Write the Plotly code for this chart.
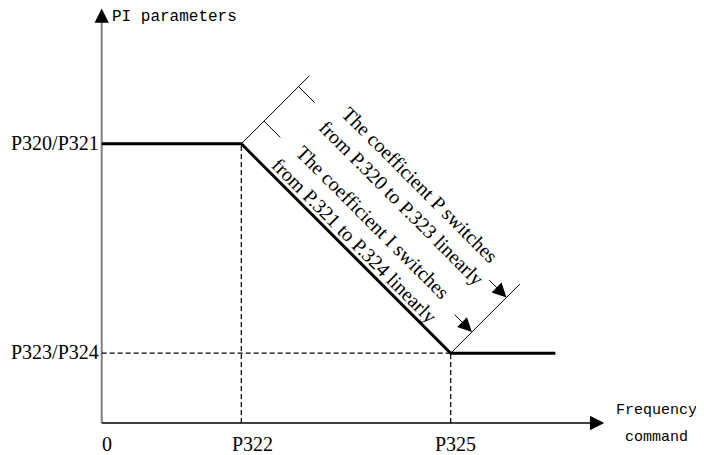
import math
import plotly.graph_objects as go

# ---------------- data (conceptual units) ----------------
x_ticks = [0.0, 1.0, 2.5]
x_tick_labels = ["0", "P322", "P325"]
y_levels = [2.0, 0.5]
y_level_labels = ["P320/P321", "P323/P324"]
curve_x = [0.0, 1.0, 2.5, 3.25]
curve_y = [2.0, 2.0, 0.5, 0.5]
x_axis_end = 3.6
y_axis_end = 2.97
x_axis_title = ["Frequency", "command"]
y_axis_title = "PI parameters"
note_P = ["The coefficient P switches", "from P.320 to P.323 linearly"]
note_I = ["The coefficient I switches", "from P.321 to P.324 linearly"]

# ---------------- geometry / style ----------------
PAGE_OFFSET = 8               # default body margin of the html page
W, H = 704 - PAGE_OFFSET, 455 - PAGE_OFFSET
PX = 139.6                    # pixels per unit (both axes)
OX, OY = 101.7 - PAGE_OFFSET, 423.0 - PAGE_OFFSET  # origin inside the figure
SERIF = "Liberation Serif"
MONO = "Liberation Mono"

s = 1 / math.sqrt(2)
u = (s, s)     # perpendicular to the falling segment (up-right)
d = (s, -s)    # along the falling segment (down-right)

def pt(p, v, t):
    return (p[0] + v[0] * t, p[1] + v[1] * t)

fig = go.Figure()

def line(xs, ys, color="black", width=1.0, dash="solid"):
    fig.add_trace(go.Scatter(x=xs, y=ys, mode="lines", hoverinfo="skip",
                             line=dict(color=color, width=width, dash=dash)))

# axes
line([0, 0], [0, y_axis_end - 0.07], color="#808080", width=2)
line([0, x_axis_end - 0.06], [0, 0], color="black", width=1.5)

# dashed guides
dash = "5px,3px"
x322, x325 = x_ticks[1], x_ticks[2]
y_hi, y_lo = y_levels
line([x322, x322], [0, y_hi], width=1.2, dash=dash)
line([x325, x325], [0, y_lo], width=1.2, dash=dash)
line([0, x325], [y_lo, y_lo], width=1.2, dash=dash)

# main curve
line(curve_x, curve_y, width=3)

# dimension lines
c1 = (x322, y_hi)
c2 = (x325, y_lo)
e1 = pt(c1, u, 0.69)
e2 = pt(c2, u, 0.70)
line([c1[0], e1[0]], [c1[1], e1[1]], width=1)
line([c2[0], e2[0]], [c2[1], e2[1]], width=1)
ann = []
for t in (0.23, 0.58):
    a = pt(c1, u, t)
    b = pt(a, d, 0.165)
    line([a[0], b[0]], [a[1], b[1]], width=1)
for t in (0.215, 0.565):
    tip = pt(c2, u, t)
    tail = pt(tip, d, -0.19)
    ann.append(dict(x=tip[0], y=tip[1], ax=tail[0], ay=tail[1], xref="x", yref="y",
                    axref="x", ayref="y", showarrow=True, arrowhead=2, arrowsize=2.8,
                    arrowwidth=1, arrowcolor="black", text="", standoff=0))

# axis arrowheads
ann.append(dict(x=0, y=y_axis_end, xref="x", yref="y", ax=0, ay=14, showarrow=True,
                arrowhead=2, arrowsize=2.2, arrowwidth=1.3, arrowcolor="black", text=""))
ann.append(dict(x=x_axis_end, y=0, xref="x", yref="y", ax=-14, ay=0, showarrow=True,
                arrowhead=2, arrowsize=2.2, arrowwidth=1.3, arrowcolor="black", text=""))

# notes along the falling segment
mid = ((c1[0] + c2[0]) / 2, (c1[1] + c2[1]) / 2)
pI = pt(mid, u, 0.175)
pP = pt(pt(mid, u, 0.605), d, 0.053)
for p, lines in ((pP, note_P), (pI, note_I)):
    ann.append(dict(x=p[0], y=p[1], xref="x", yref="y", showarrow=False,
                    text="<br>".join(lines), textangle=45, align="center",
                    xanchor="center", yanchor="middle",
                    font=dict(family=SERIF, size=20, color="black")))

# tick labels
for xv, lab, sh in zip(x_ticks, x_tick_labels, (5, 11, 5)):
    ann.append(dict(x=xv, y=0, xref="x", yref="y", showarrow=False, text=lab,
                    xanchor="center", yanchor="middle", xshift=sh, yshift=-21,
                    font=dict(family=SERIF, size=20, color="black")))
for yv, lab in zip(y_levels, y_level_labels):
    ann.append(dict(x=0, y=yv, xref="x", yref="y", showarrow=False, text=lab,
                    xanchor="right", yanchor="middle", xshift=-1, yshift=1,
                    font=dict(family=SERIF, size=20, color="black")))

# axis titles
ann.append(dict(x=0, y=y_axis_end, xref="x", yref="y", showarrow=False, text=y_axis_title,
                xanchor="left", yanchor="middle", xshift=8, yshift=-9,
                font=dict(family=MONO, size=16, color="black")))
ann.append(dict(x=x_axis_end, y=0, xref="x", yref="y", showarrow=False, text=x_axis_title[0],
                xanchor="center", yanchor="middle", xshift=52, yshift=13,
                font=dict(family=MONO, size=15, color="black")))
ann.append(dict(x=x_axis_end, y=0, xref="x", yref="y", showarrow=False, text=x_axis_title[1],
                xanchor="center", yanchor="middle", xshift=52, yshift=-14,
                font=dict(family=MONO, size=15, color="black")))

fig.update_layout(
    width=W, height=H, margin=dict(l=0, r=0, t=0, b=0),
    paper_bgcolor="white", plot_bgcolor="white", showlegend=False,
    xaxis=dict(range=[-OX / PX, (W - OX) / PX], visible=False, fixedrange=True),
    yaxis=dict(range=[-(H - OY) / PX, OY / PX], visible=False, fixedrange=True),
    annotations=ann,
)

fig.write_html("out.html")
